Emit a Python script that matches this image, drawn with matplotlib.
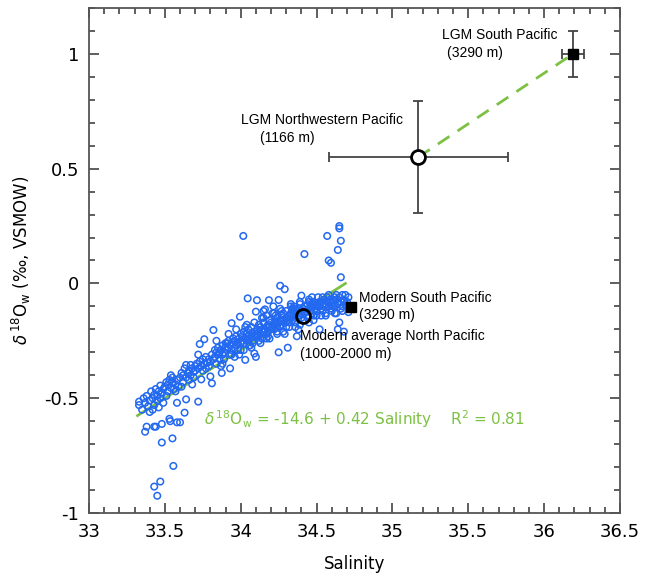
import matplotlib
matplotlib.use("Agg")
import matplotlib.pyplot as plt
from matplotlib.ticker import MultipleLocator, FormatStrFormatter

plt.rcParams['axes.unicode_minus'] = False

# modern North Pacific water samples (salinity, d18Ow)
sal = [33.33, 33.33, 33.35, 33.36, 33.37, 33.38, 33.39, 33.40, 33.37, 33.38, 33.40,
       33.41, 33.42, 33.43, 33.43, 33.44, 33.45, 33.45, 33.46, 33.47, 33.47, 33.48, 33.49, 33.49,
       33.43, 33.44, 33.48, 33.48, 33.43, 33.47, 33.45, 33.42, 33.46,
       33.50, 33.51, 33.52, 33.52, 33.53, 33.54, 33.55, 33.55, 33.56, 33.57, 33.58, 33.58, 33.59,
       33.53, 33.535, 33.58, 33.60, 33.55, 33.556, 33.51, 33.54, 33.57,
       33.60, 33.61, 33.62, 33.62, 33.63, 33.63, 33.64, 33.64, 33.64, 33.65, 33.66, 33.66, 33.67,
       33.67, 33.68, 33.69, 33.69, 33.70, 33.61, 33.68,
       33.70, 33.71, 33.72, 33.72, 33.73, 33.73, 33.74, 33.74, 33.75, 33.75, 33.76, 33.76, 33.77,
       33.77, 33.78, 33.79, 33.79, 33.80, 33.80, 33.72,
       33.81, 33.81, 33.82, 33.82, 33.83, 33.83, 33.84, 33.84, 33.85, 33.85, 33.86, 33.86, 33.87,
       33.875, 33.88, 33.88, 33.89, 33.89, 33.90, 33.90, 33.84, 33.87,
       33.91, 33.91, 33.92, 33.92, 33.93, 33.93, 33.94, 33.94, 33.95, 33.95, 33.96, 33.96, 33.97,
       33.97, 33.98, 33.98, 33.99, 33.995, 34.00, 34.00, 33.96, 33.99,
       34.01, 34.01, 34.02, 34.02, 34.03, 34.03, 34.04, 34.04, 34.046, 34.05, 34.05, 34.06, 34.06,
       34.07, 34.07, 34.08, 34.08, 34.09, 34.09, 34.10, 34.10, 34.10, 34.017, 34.04, 34.07,
       34.107, 34.11, 34.11, 34.12, 34.12, 34.13, 34.13, 34.14, 34.14, 34.15, 34.15, 34.16, 34.16,
       34.17, 34.17, 34.18, 34.18, 34.186, 34.19, 34.19, 34.20, 34.20, 34.13, 34.17, 34.15,
       34.21, 34.215, 34.22, 34.22, 34.23, 34.23, 34.24, 34.24, 34.25, 34.25, 34.25, 34.26, 34.26,
       34.26, 34.27, 34.27, 34.28, 34.28, 34.29, 34.29, 34.30, 34.30, 34.22, 34.24, 34.28,
       34.31, 34.31, 34.32, 34.32, 34.33, 34.33, 34.34, 34.34, 34.35, 34.35, 34.36, 34.36, 34.37,
       34.37, 34.38, 34.38, 34.39, 34.39, 34.40, 34.40, 34.40, 34.33, 34.36, 34.39,
       34.41, 34.42, 34.42, 34.43, 34.43, 34.44, 34.44, 34.45, 34.45, 34.46, 34.46, 34.47, 34.47,
       34.48, 34.48, 34.49, 34.49, 34.50, 34.50, 34.45, 34.48,
       34.51, 34.52, 34.52, 34.53, 34.53, 34.54, 34.55, 34.55, 34.56, 34.57, 34.57, 34.58, 34.58,
       34.59, 34.595, 34.60, 34.60, 34.56, 34.54,
       34.61, 34.62, 34.62, 34.63, 34.64, 34.64, 34.64, 34.65, 34.65, 34.65, 34.65, 34.66, 34.66,
       34.66, 34.67, 34.67, 34.68, 34.68, 34.69, 34.70, 34.71, 34.71, 34.63,
       # denser core of the band
       33.92, 33.94, 33.97, 34.00, 34.03, 34.06, 34.09, 34.12, 34.15, 34.18, 34.21, 34.24,
       34.27, 34.30, 34.33, 34.36, 34.39, 34.42, 34.45, 34.48, 34.51, 34.54, 34.57, 34.60,
       34.63, 34.66, 34.69, 34.14, 34.19, 34.23, 34.29, 34.34, 34.38, 34.44, 34.47, 34.53,
       34.58, 34.62, 34.68, 34.26, 34.32, 34.41, 34.50, 34.56, 34.61, 33.88, 33.93, 34.02,
       34.08, 34.17, 34.35, 34.46, 34.52, 34.59, 34.67, 34.70]
d18o = [-0.515, -0.53, -0.55, -0.50, -0.52, -0.49, -0.535, -0.51, -0.646, -0.624, -0.56,
        -0.47, -0.50, -0.485, -0.53, -0.46, -0.49, -0.51, -0.47, -0.445, -0.50, -0.48, -0.46, -0.52,
        -0.624, -0.624, -0.612, -0.693, -0.885, -0.863, -0.925, -0.55, -0.54,
        -0.45, -0.43, -0.47, -0.44, -0.42, -0.455, -0.43, -0.41, -0.46, -0.44, -0.42, -0.52, -0.45,
        -0.59, -0.60, -0.605, -0.605, -0.675, -0.795, -0.49, -0.40, -0.47,
        -0.41, -0.39, -0.43, -0.40, -0.37, -0.563, -0.505, -0.355, -0.41, -0.39, -0.42, -0.38, -0.355,
        -0.40, -0.37, -0.41, -0.385, -0.36, -0.45, -0.44,
        -0.38, -0.35, -0.515, -0.37, -0.264, -0.34, -0.418, -0.36, -0.33, -0.38, -0.243, -0.35, -0.37,
        -0.32, -0.345, -0.36, -0.33, -0.405, -0.34, -0.31,
        -0.435, -0.31, -0.203, -0.33, -0.29, -0.32, -0.30, -0.35, -0.31, -0.28, -0.33, -0.30, -0.29,
        -0.39, -0.31, -0.27, -0.30, -0.33, -0.28, -0.26, -0.25, -0.36,
        -0.29, -0.26, -0.28, -0.25, -0.37, -0.27, -0.173, -0.29, -0.26, -0.24, -0.28, -0.25, -0.27,
        -0.23, -0.26, -0.29, -0.24, -0.145, -0.26, -0.22, -0.32, -0.31,
        -0.25, -0.23, -0.21, -0.26, -0.333, -0.24, -0.22, -0.25, -0.065, -0.23, -0.20, -0.24, -0.27,
        -0.22, -0.19, -0.23, -0.25, -0.305, -0.21, -0.32, -0.123, -0.22, 0.207, -0.18, -0.28,
        -0.073, -0.20, -0.23, -0.21, -0.18, -0.22, -0.19, -0.20, -0.24, -0.21, -0.17, -0.113, -0.20,
        -0.19, -0.22, -0.18, -0.21, -0.073, -0.19, -0.16, -0.20, -0.17, -0.26, -0.14, -0.12,
        -0.19, -0.10, -0.17, -0.20, -0.16, -0.18, -0.15, -0.19, -0.072, -0.30, -0.17, -0.01, -0.16,
        -0.19, -0.14, -0.18, -0.16, -0.13, -0.025, -0.17, -0.15, -0.12, -0.13, -0.22, -0.21,
        -0.28, -0.16, -0.14, -0.17, -0.13, -0.15, -0.16, -0.12, -0.14, -0.10, -0.15, -0.13, -0.23,
        -0.12, -0.14, -0.11, -0.13, -0.09, -0.053, -0.12, -0.15, -0.09, -0.19, -0.18,
        -0.11, 0.128, -0.13, -0.10, -0.12, -0.09, -0.14, -0.11, -0.08, -0.12, -0.10, -0.09, -0.13,
        -0.10, -0.08, -0.11, -0.09, -0.10, -0.12, -0.17, -0.16,
        -0.09, -0.20, -0.10, -0.08, -0.11, -0.09, -0.10, -0.07, -0.09, 0.207, -0.08, 0.10, -0.10,
        -0.07, 0.09, -0.09, -0.11, -0.14, -0.06,
        -0.08, -0.06, -0.10, -0.07, 0.146, -0.20, -0.09, 0.25, 0.24, -0.17, -0.06, 0.186, 0.027,
        -0.08, -0.10, -0.05, -0.21, -0.07, -0.09, -0.08, -0.125, -0.06, -0.13,
        -0.22, -0.31, -0.20, -0.29, -0.19, -0.27, -0.17, -0.25, -0.15, -0.23, -0.13, -0.21,
        -0.12, -0.19, -0.10, -0.17, -0.08, -0.16, -0.07, -0.14, -0.06, -0.12, -0.06, -0.12,
        -0.05, -0.11, -0.05, -0.15, -0.24, -0.14, -0.22, -0.11, -0.20, -0.15, -0.06, -0.14,
        -0.05, -0.13, -0.08, -0.11, -0.19, -0.16, -0.14, -0.13, -0.10, -0.35, -0.31, -0.29,
        -0.26, -0.24, -0.11, -0.12, -0.08, -0.08, -0.12, -0.10]

# regression through the modern data
fit_a, fit_b = -14.57, 0.42
fit_range = [33.32, 34.69]

# LGM and modern reference points
lgm_nw = (35.17, 0.55, 0.59, 0.245)     # x, y, xerr, yerr
lgm_sp = (36.19, 1.0, 0.07, 0.10)
mod_sp = (34.727, -0.104)
mod_np = (34.413, -0.142)

fig = plt.figure(figsize=(6.51, 5.76), dpi=100)
ax = fig.add_axes([0.1367, 0.1094, 0.8157, 0.8767])

ax.plot(fit_range, [fit_a + fit_b * v for v in fit_range], color='#7dc144', lw=2, zorder=1)
ax.scatter(sal, d18o, s=22, facecolors='none', edgecolors='#2268f0', linewidths=1.1, zorder=2)
ax.plot([lgm_nw[0], lgm_sp[0]], [lgm_nw[1], lgm_sp[1]], color='#7dc144', lw=2,
        dashes=(5, 3.5), zorder=3)

ax.errorbar(lgm_nw[0], lgm_nw[1], xerr=lgm_nw[2], yerr=lgm_nw[3], fmt='none',
            ecolor='#444444', elinewidth=1.3, capsize=3.5, capthick=1.3, zorder=4)
ax.plot(lgm_nw[0], lgm_nw[1], 'o', ms=10, mfc='white', mec='black', mew=2, zorder=5)
ax.errorbar(lgm_sp[0], lgm_sp[1], xerr=lgm_sp[2], yerr=lgm_sp[3], fmt='none',
            ecolor='#444444', elinewidth=1.3, capsize=3.5, capthick=1.3, zorder=4)
ax.plot(lgm_sp[0], lgm_sp[1], 's', ms=7.5, color='black', zorder=5)
ax.plot(mod_sp[0], mod_sp[1], 's', ms=7, color='black', zorder=5)
ax.plot(mod_np[0], mod_np[1], 'o', ms=10, mfc='none', mec='black', mew=2, zorder=5)

lab = dict(fontsize=10, family='Liberation Sans', color='black')
ax.text(35.33, 1.05, 'LGM South Pacific', ha='left', va='bottom', **lab)
ax.text(35.36, 0.975, '(3290 m)', ha='left', va='bottom', **lab)
ax.text(34.0, 0.68, 'LGM Northwestern Pacific', ha='left', va='bottom', **lab)
ax.text(34.13, 0.605, '(1166 m)', ha='left', va='bottom', **lab)
ax.text(34.78, -0.095, 'Modern South Pacific', ha='left', va='bottom', **lab)
ax.text(34.78, -0.17, '(3290 m)', ha='left', va='bottom', **lab)
ax.text(34.39, -0.26, 'Modern average North Pacific', ha='left', va='bottom', **lab)
ax.text(34.39, -0.34, '(1000-2000 m)', ha='left', va='bottom', **lab)

ax.text(33.76, -0.64, r'$\delta\,^{18}$O$_\mathrm{w}$ = -14.6 + 0.42 Salinity    R$^2$ = 0.81',
        color='#7dc144', fontsize=11, ha='left', va='bottom')

ax.set_xlim(33, 36.5)
ax.set_ylim(-1, 1.2)
ax.xaxis.set_major_locator(MultipleLocator(0.5))
ax.xaxis.set_minor_locator(MultipleLocator(0.1))
ax.yaxis.set_major_locator(MultipleLocator(0.5))
ax.yaxis.set_minor_locator(MultipleLocator(0.1))
ax.xaxis.set_major_formatter(FormatStrFormatter('%g'))
ax.yaxis.set_major_formatter(FormatStrFormatter('%g'))
ax.tick_params(which='both', direction='in', top=True, right=True, color='#333333',
               width=1.1, labelsize=13)
ax.tick_params(which='major', length=7, pad=7)
ax.tick_params(which='minor', length=4)
for s in ax.spines.values():
    s.set_color('#555555')
    s.set_linewidth(1.3)

ax.set_xlabel('Salinity', fontsize=12, labelpad=10)
ax.set_ylabel(r'$\delta\,^{18}$O$_\mathrm{w}$ (‰, VSMOW)', fontsize=12, labelpad=8)

fig.savefig('out.png', dpi=100)
